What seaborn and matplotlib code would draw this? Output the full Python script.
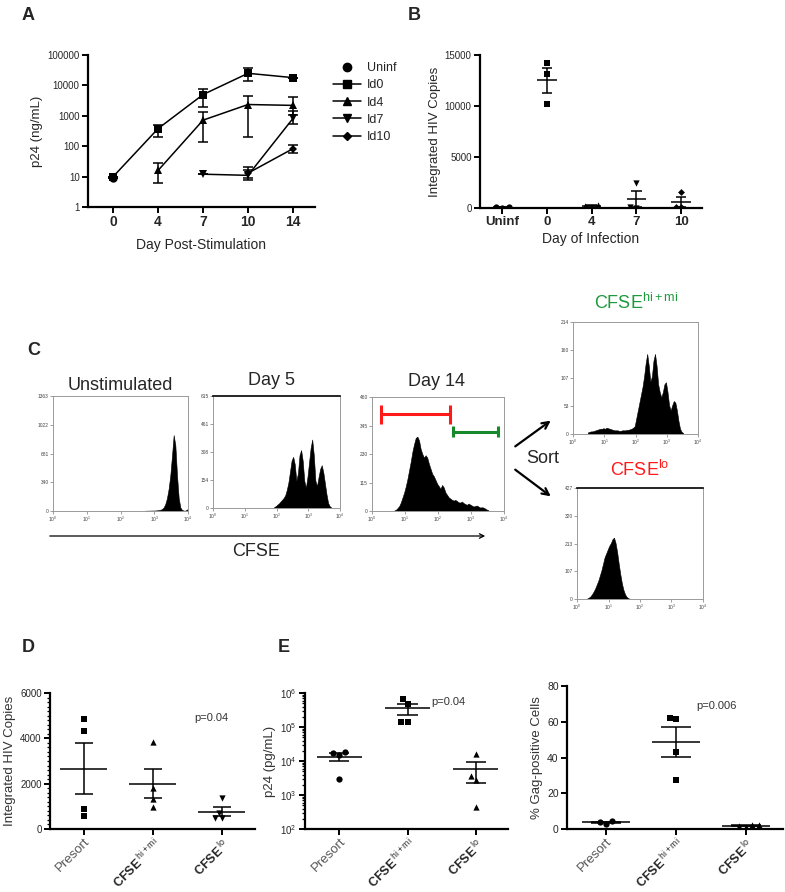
import numpy as np
import pandas as pd
import matplotlib

matplotlib.use("Agg")
import matplotlib.pyplot as plt
import seaborn as sns
from matplotlib import ticker
from matplotlib.lines import Line2D
from matplotlib.patches import FancyArrowPatch

# ---- panel A: p24 over time (log) ----
day_labels = ["0", "4", "7", "10", "14"]
uninf_pos = [0]
uninf_val = [9]
id0_pos = [0, 1, 2, 3, 4]
id0_val = [10, 380, 5000, 25000, 18000]
id0_lo = [10, 205, 1900, 14000, 18000]
id0_hi = [10, 490, 7900, 36000, 18000]
id4_pos = [1, 2, 3, 4]
id4_val = [16, 720, 2350, 2200]
id4_lo = [6, 138, 205, 1100]
id4_hi = [27, 1350, 4600, 4000]
id7_pos = [2, 3, 4]
id7_val = [12, 11, 820]
id7_lo = [12, 8, 530]
id7_hi = [12, 16, 1400]
id10_pos = [3, 4]
id10_val = [13, 83]
id10_lo = [9, 58]
id10_hi = [20, 113]

# ---- panel B: integrated copies by day of infection ----
b_groups = ["Uninf", "0", "4", "7", "10"]
b_uninf = [60, 40, 50]
b_d0 = [14200, 13100, 10200]
b_d4 = [300, 180, 120]
b_d7 = [2450, 80, 40]
b_d10 = [1600, 100, 60]

# ---- panel C: CFSE histograms (log10 fluorescence, 0.05 decade bins) ----
HIST_BW = 0.05
unstim_start = 2.70
unstim_counts = [3, 4, 4, 5, 5, 6, 6, 8, 10, 14, 22, 40, 80, 150, 260, 420, 650, 900,
                 780, 420, 150, 40, 12, 5, 4, 20]
day5_start = 1.90
day5_counts = [5, 10, 18, 25, 35, 45, 55, 70, 100, 140, 200, 260, 281, 240, 150, 190, 290,
               318, 260, 150, 110, 170, 250, 330, 376, 290, 150, 120, 170, 215, 235, 195,
               135, 75, 28, 10, 3]
day14_start = 0.65
day14_counts = [2, 5, 12, 20, 35, 55, 75, 100, 130, 165, 200, 240, 270, 295, 300, 285, 250,
                230, 215, 225, 215, 190, 170, 150, 140, 125, 110, 100, 90, 105, 95, 75, 65,
                55, 50, 45, 42, 45, 40, 35, 34, 38, 32, 28, 25, 30, 26, 22, 18, 20, 22, 18,
                14, 15, 14, 10, 6, 3]
himi_start = 0.45
himi_counts = [3, 4, 5, 5, 6, 7, 8, 9, 10, 10, 11, 10, 12, 11, 10, 9, 8, 7, 7, 7, 6, 6, 7,
               7, 7, 8, 8, 9, 10, 12, 15, 30, 45, 60, 75, 90, 110, 135, 153, 130, 100, 110,
               140, 153, 130, 95, 80, 70, 80, 95, 99, 80, 55, 45, 55, 63, 60, 45, 25, 10, 4, 2]
lo_start = 0.30
lo_counts = [2, 5, 10, 18, 28, 40, 55, 70, 90, 110, 135, 160, 175, 190, 205, 215, 230, 236,
             215, 180, 135, 95, 60, 35, 18, 8, 3, 1]
unstim_yticks = [0, 340, 681, 1022, 1363]
day5_yticks = [0, 154, 308, 461, 615]
day14_yticks = [0, 115, 230, 345, 460]
himi_yticks = [0, 53, 107, 160, 214]
lo_yticks = [0, 107, 213, 320, 427]
red_gate = [0.26, 2.37, 390]
green_gate = [2.46, 3.82, 320]

# ---- panels D / E ----
sort_groups = ["Presort", "CFSE hi+mi", "CFSE lo"]
d_presort = [4870, 4330, 870, 570]
d_himi = [3850, 1830, 1330, 980]
d_lo = [1350, 720, 480, 480]
e_presort = [17200, 15500, 18000, 2950]
e_himi = [660000, 487000, 141000, 141000]
e_lo = [16000, 3700, 2800, 450]
g_presort = [4.3, 3.0, 3.9]
g_himi = [61.4, 62.1, 43.3, 27.2]
g_lo = [2.05, 1.3, 1.5, 2.2]

sns.set_theme(style="ticks")
plt.rcParams["font.family"] = ["Liberation Sans", "DejaVu Sans"]
plt.rcParams["mathtext.fontset"] = "custom"
plt.rcParams["mathtext.rm"] = "Liberation Sans"
plt.rcParams["mathtext.it"] = "Liberation Sans:italic"
plt.rcParams["mathtext.bf"] = "Liberation Sans:bold"

W, H = 785, 892
fig = plt.figure(figsize=(W / 100, H / 100), dpi=100)


def box(l, t, r, b):
    return fig.add_axes([l / W, 1 - b / H, (r - l) / W, (b - t) / H])


def ftext(x, y, s, **kw):
    fig.text(x / W, 1 - y / H, s, **kw)


def prism_axes(ax):
    sns.despine(ax=ax)
    for side in ["left", "bottom"]:
        ax.spines[side].set_linewidth(1.6)
        ax.spines[side].set_color("black")
    ax.tick_params(which="major", length=4, width=1.4, color="black", pad=2)
    ax.tick_params(which="minor", length=2, width=0.9, color="black")


def mean_sem(ax, vals, pos, half, cap):
    v = np.asarray(vals, dtype=float)
    m = v.mean()
    s = v.std(ddof=1) / np.sqrt(len(v))
    ax.hlines(m, pos - half, pos + half, color="black", lw=1.1, zorder=4)
    ax.hlines([m - s, m + s], pos - cap, pos + cap, color="black", lw=1.1, zorder=4)
    ax.vlines(pos, m - s, m + s, color="black", lw=1.1, zorder=4)


# ================= A =================
ax = box(88, 55, 315, 207)
ax.set_yscale("log")
series = [
    ("Uninf", uninf_pos, uninf_val, uninf_val, uninf_val, "o", 6),
    ("Id0", id0_pos, id0_val, id0_lo, id0_hi, "s", 6),
    ("Id4", id4_pos, id4_val, id4_lo, id4_hi, "^", 6),
    ("Id7", id7_pos, id7_val, id7_lo, id7_hi, "v", 6),
    ("Id10", id10_pos, id10_val, id10_lo, id10_hi, "D", 4.5),
]
handles = []
for name, pos, val, lo, hi, mk, ms in series:
    val = np.asarray(val, float)
    sns.lineplot(x=pos, y=val, marker=mk, markersize=ms, color="black", linewidth=1.1,
                 markeredgewidth=0, ax=ax, legend=False)
    ax.errorbar(pos, val, yerr=[val - np.asarray(lo), np.asarray(hi) - val], fmt="none",
                ecolor="black", elinewidth=1.1, capsize=3.5, capthick=1.1)
    handles.append(Line2D([], [], color="black", marker=mk, markersize=ms, lw=1.1,
                          linestyle="none" if len(pos) == 1 else "-", label=name))
ax.set_ylim(1, 100000)
ax.set_xlim(-0.56, 4.49)
ax.set_xticks(range(len(day_labels)))
ax.set_xticklabels(day_labels, fontsize=10, fontweight="bold")
ax.yaxis.set_major_locator(ticker.FixedLocator([1, 10, 100, 1000, 10000, 100000]))
ax.yaxis.set_major_formatter(ticker.FuncFormatter(lambda v, p: f"{int(v)}"))
ax.yaxis.set_minor_locator(ticker.LogLocator(base=10, subs=np.arange(2, 10)))
ax.yaxis.set_minor_formatter(ticker.NullFormatter())
for t in ax.get_yticklabels():
    t.set_fontsize(7)
ax.set_ylabel("p24 (ng/mL)", fontsize=9.5, labelpad=3)
ax.set_xlabel("Day Post-Stimulation", fontsize=10, labelpad=6)
prism_axes(ax)
fig.legend(handles=handles, loc="upper left", bbox_to_anchor=(328 / W, 1 - 57 / H),
           frameon=False, fontsize=9, handlelength=2.2, labelspacing=0.42,
           handletextpad=0.5, borderaxespad=0)
ftext(22, 20, "A", fontsize=13, fontweight="bold")

# ================= B =================
ax = box(480, 55, 702, 208)
b_sets = [(b_uninf, "o"), (b_d0, "s"), (b_d4, "^"), (b_d7, "v"), (b_d10, "D")]
for (vals, mk), grp in zip(b_sets, b_groups):
    sns.swarmplot(x=[grp] * len(vals), y=vals, order=b_groups, marker=mk, color="black",
                  size=4.5 if mk != "D" else 3.5, linewidth=0, ax=ax, zorder=3)
for i, (vals, _) in enumerate(b_sets):
    mean_sem(ax, vals, i, 0.22, 0.12)
ax.set_xlim(-0.5, 4.47)
ax.set_ylim(0, 15000)
ax.set_yticks([0, 5000, 10000, 15000])
ax.set_yticklabels(["0", "5000", "10000", "15000"], fontsize=7)
ax.set_xticks(range(len(b_groups)))
ax.set_xticklabels(b_groups, fontsize=9.5, fontweight="bold")
ax.set_ylabel("Integrated HIV Copies", fontsize=9.5, labelpad=3)
ax.set_xlabel("Day of Infection", fontsize=10, labelpad=3)
prism_axes(ax)
ftext(408, 20, "B", fontsize=13, fontweight="bold")


# ================= C =================
def cfse_hist(rect, start, counts, yticks, top_black=False):
    a = box(*rect)
    n = len(counts)
    hist_df = pd.DataFrame({"log_fl": start + HIST_BW * (np.arange(n) + 0.5),
                            "events": counts})
    sns.histplot(data=hist_df, x="log_fl", weights="events", bins=n,
                 binrange=(start, start + HIST_BW * n), element="poly",
                 fill=True, color="black", alpha=1, linewidth=0.4, edgecolor="black", ax=a)
    a.set_xlim(0, 4)
    a.set_ylim(0, yticks[-1])
    a.set_xticks(range(5))
    a.set_xticklabels([f"$10^{k}$" for k in range(5)], fontsize=3.5, color="#444444")
    a.set_yticks(yticks)
    a.set_yticklabels([str(v) for v in yticks], fontsize=3.5, color="#444444")
    a.set_xlabel("")
    a.set_ylabel("")
    a.tick_params(length=2, width=0.5, color="#777777", pad=1)
    for s in a.spines.values():
        s.set_color("#9a9a9a")
        s.set_linewidth(0.7)
    if top_black:
        a.spines["top"].set_color("black")
        a.spines["top"].set_linewidth(1.2)
    return a


cfse_hist((53, 396, 188, 511), unstim_start, unstim_counts, unstim_yticks)
cfse_hist((213, 396, 340, 508), day5_start, day5_counts, day5_yticks, top_black=True)
a14 = cfse_hist((372, 397, 504, 511), day14_start, day14_counts, day14_yticks)
for (x0, x1, y), col, capv in [(red_gate, "#ff1a1a", 38), (green_gate, "#168a2a", 22)]:
    a14.plot([x0, x1], [y, y], color=col, lw=2.2, solid_capstyle="butt")
    a14.vlines([x0, x1], y - capv, y + capv, color=col, lw=2.2)
cfse_hist((573, 322, 698, 434), himi_start, himi_counts, himi_yticks)
cfse_hist((577, 488, 703, 599), lo_start, lo_counts, lo_yticks, top_black=True)

ftext(27, 355, "C", fontsize=13, fontweight="bold")
ftext(120, 385, "Unstimulated", fontsize=13, ha="center", va="center")
ftext(272, 381, "Day 5", fontsize=13, ha="center", va="center")
ftext(436, 382, "Day 14", fontsize=13, ha="center", va="center")
ftext(636, 303, r"CFSE$^{\mathrm{hi+mi}}$", fontsize=13, ha="center", va="center",
      color="#1e9a3c")
ftext(640, 470, r"CFSE$^{\mathrm{lo}}$", fontsize=13, ha="center", va="center",
      color="#ff1a1a")
ftext(543, 458, "Sort", fontsize=13, ha="center", va="center")
ftext(256, 552, "CFSE", fontsize=13, ha="center", va="center")

for p0, p1, lw, ms in [((47, 536), (488, 536), 0.9, 8), ((513, 448), (553, 419), 1.6, 12),
                       ((513, 468), (553, 498), 1.6, 12)]:
    fig.add_artist(FancyArrowPatch((p0[0] / W, 1 - p0[1] / H), (p1[0] / W, 1 - p1[1] / H),
                                   transform=fig.transFigure, arrowstyle="->",
                                   mutation_scale=ms, lw=lw, color="black"))


# ================= D / E =================
def sort_panel(rect, sets, xlim, half, cap, log=False):
    a = box(*rect)
    if log:
        a.set_yscale("log")
    for (vals, mk), grp in zip(sets, sort_groups):
        sns.swarmplot(x=[grp] * len(vals), y=vals, order=sort_groups, marker=mk,
                      color="black", size=4.5, linewidth=0, ax=a, zorder=3)
    for i, (vals, _) in enumerate(sets):
        mean_sem(a, vals, i, half, cap)
    a.set_xlim(*xlim)
    a.set_xticks(range(3))
    a.set_xticklabels(["Presort", r"CFSE$^{\ \mathrm{hi+mi}}$", r"CFSE$^{\ \mathrm{lo}}$"],
                      rotation=45, ha="right", va="top", rotation_mode="anchor")
    labs = a.get_xticklabels()
    labs[0].set_color("#555555")
    labs[0].set_fontsize(9.5)
    for t in labs[1:]:
        t.set_fontweight("bold")
        t.set_fontsize(9)
    a.set_xlabel("")
    prism_axes(a)
    a.tick_params(axis="x", pad=1)
    return a


ax = sort_panel((50, 693, 255, 829), [(d_presort, "s"), (d_himi, "^"), (d_lo, "v")],
                (-0.49, 2.48), 0.34, 0.13)
ax.set_ylim(0, 6000)
ax.set_yticks([0, 2000, 4000, 6000])
ax.yaxis.set_minor_locator(ticker.AutoMinorLocator(10))
ax.tick_params(axis="y", labelsize=7)
ax.set_ylabel("Integrated HIV Copies", fontsize=9.5, color="#333333", labelpad=3)
ax.text(1.85, 4900, "p=0.04", fontsize=8, ha="center", va="center", color="#333333")
ftext(22, 652, "D", fontsize=13, fontweight="bold")

ax = sort_panel((305, 693, 508, 829), [(e_presort, "o"), (e_himi, "s"), (e_lo, "^")],
                (-0.5, 2.47), 0.33, 0.15, log=True)
ax.set_ylim(1e2, 1e6)
ax.yaxis.set_major_locator(ticker.LogLocator(base=10, numticks=10))
ax.yaxis.set_minor_locator(ticker.LogLocator(base=10, subs=np.arange(2, 10), numticks=10))
ax.yaxis.set_minor_formatter(ticker.NullFormatter())
ax.tick_params(axis="y", labelsize=7)
ax.set_ylabel("p24 (pg/mL)", fontsize=9.5, color="#333333", labelpad=3)
ax.text(1.6, 5.5e5, "p=0.04", fontsize=8, ha="center", va="center", color="#333333")
ftext(278, 652, "E", fontsize=13, fontweight="bold")

ax = sort_panel((567, 686, 783, 829), [(g_presort, "o"), (g_himi, "s"), (g_lo, "^")],
                (-0.56, 2.53), 0.34, 0.21)
ax.set_ylim(0, 80)
ax.set_yticks([0, 20, 40, 60, 80])
ax.tick_params(axis="y", labelsize=7.5)
ax.set_ylabel("% Gag-positive Cells", fontsize=9.5, color="#333333", labelpad=3)
ax.text(1.58, 69, "p=0.006", fontsize=8, ha="center", va="center", color="#333333")

fig.savefig("out.png", dpi=100)
